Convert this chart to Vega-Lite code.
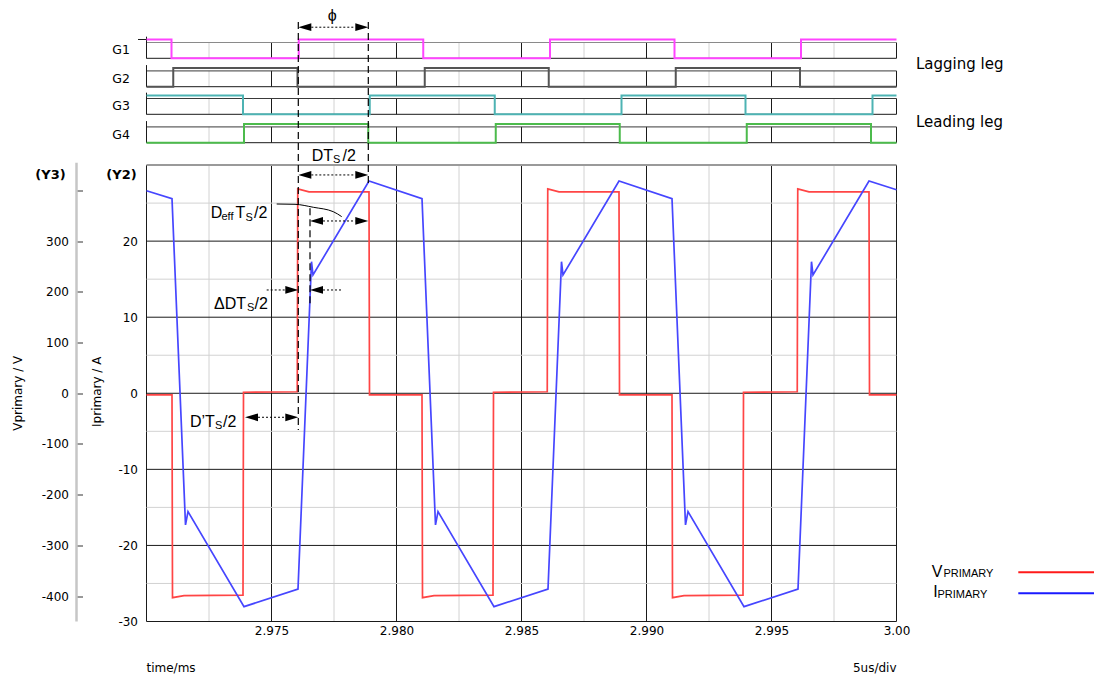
{
  "$schema": "https://vega.github.io/schema/vega-lite/v6.json",
  "width": 750,
  "height": 620,
  "autosize": {"type": "none"},
  "padding": {"left": 146.5, "top": 1.5, "right": 197.5, "bottom": 52.5},
  "background": "white",
  "config": {"view": {"stroke": null}},
  "datasets": {
    "cur": [
      {"t": 2.970, "a": 26.63}, {"t": 2.97102, "a": 25.58}, {"t": 2.97156, "a": -17.31}, {"t": 2.97166, "a": -15.56},
      {"t": 2.97390, "a": -28.05}, {"t": 2.97606, "a": -25.73}, {"t": 2.97660, "a": 17.30}, {"t": 2.97666, "a": 15.55},
      {"t": 2.97890, "a": 27.90}, {"t": 2.98102, "a": 25.58}, {"t": 2.98156, "a": -17.31}, {"t": 2.98166, "a": -15.56},
      {"t": 2.98390, "a": -28.05}, {"t": 2.98606, "a": -25.73}, {"t": 2.98660, "a": 17.30}, {"t": 2.98666, "a": 15.55},
      {"t": 2.98890, "a": 27.90}, {"t": 2.99102, "a": 25.58}, {"t": 2.99156, "a": -17.31}, {"t": 2.99166, "a": -15.56},
      {"t": 2.99390, "a": -28.05}, {"t": 2.99606, "a": -25.73}, {"t": 2.99660, "a": 17.30}, {"t": 2.99666, "a": 15.55},
      {"t": 2.99890, "a": 27.90}, {"t": 3.000, "a": 26.75}
    ],
    "volt": [
      {"t": 2.970, "v": -3}, {"t": 2.97102, "v": -3}, {"t": 2.97104, "v": -403}, {"t": 2.97150, "v": -399},
      {"t": 2.97386, "v": -398}, {"t": 2.97388, "v": 2}, {"t": 2.97603, "v": 3}, {"t": 2.97605, "v": 403},
      {"t": 2.97650, "v": 397}, {"t": 2.97890, "v": 397}, {"t": 2.97892, "v": -3}, {"t": 2.98102, "v": -3},
      {"t": 2.98104, "v": -403}, {"t": 2.98150, "v": -399}, {"t": 2.98386, "v": -398}, {"t": 2.98388, "v": 2},
      {"t": 2.98603, "v": 3}, {"t": 2.98605, "v": 403}, {"t": 2.98650, "v": 397}, {"t": 2.98890, "v": 397},
      {"t": 2.98892, "v": -3}, {"t": 2.99102, "v": -3}, {"t": 2.99104, "v": -403}, {"t": 2.99150, "v": -399},
      {"t": 2.99386, "v": -398}, {"t": 2.99388, "v": 2}, {"t": 2.99603, "v": 3}, {"t": 2.99605, "v": 403},
      {"t": 2.99650, "v": 397}, {"t": 2.99890, "v": 397}, {"t": 2.99892, "v": -3}, {"t": 3.000, "v": -3}
    ],
    "gates": [
      {"g": "G1", "t": 2.970, "s": 1}, {"g": "G1", "t": 2.97100, "s": 0}, {"g": "G1", "t": 2.97609, "s": 1}, {"g": "G1", "t": 2.98107, "s": 0},
      {"g": "G1", "t": 2.98614, "s": 1}, {"g": "G1", "t": 2.99112, "s": 0}, {"g": "G1", "t": 2.99618, "s": 1}, {"g": "G1", "t": 3.000, "s": 1},
      {"g": "G2", "t": 2.970, "s": 0}, {"g": "G2", "t": 2.97107, "s": 1}, {"g": "G2", "t": 2.97604, "s": 0}, {"g": "G2", "t": 2.98113, "s": 1},
      {"g": "G2", "t": 2.98609, "s": 0}, {"g": "G2", "t": 2.99117, "s": 1}, {"g": "G2", "t": 2.99614, "s": 0}, {"g": "G2", "t": 3.000, "s": 0},
      {"g": "G3", "t": 2.970, "s": 1}, {"g": "G3", "t": 2.97386, "s": 0}, {"g": "G3", "t": 2.97893, "s": 1}, {"g": "G3", "t": 2.98393, "s": 0},
      {"g": "G3", "t": 2.98900, "s": 1}, {"g": "G3", "t": 2.99396, "s": 0}, {"g": "G3", "t": 2.99904, "s": 1}, {"g": "G3", "t": 3.000, "s": 1},
      {"g": "G4", "t": 2.970, "s": 0}, {"g": "G4", "t": 2.97390, "s": 1}, {"g": "G4", "t": 2.97887, "s": 0}, {"g": "G4", "t": 2.98397, "s": 1},
      {"g": "G4", "t": 2.98893, "s": 0}, {"g": "G4", "t": 2.99401, "s": 1}, {"g": "G4", "t": 2.99898, "s": 0}, {"g": "G4", "t": 3.000, "s": 0}
    ],
    "glabels": [{"g": "G1"}, {"g": "G2"}, {"g": "G3"}, {"g": "G4"}],
    "lanes": [{"lv": 0, "k": "low"}, {"lv": 0.84, "k": "top"}],
    "xgrid": [
      {"t": 2.9725, "k": "minor"}, {"t": 2.9775, "k": "minor"}, {"t": 2.9825, "k": "minor"}, {"t": 2.9875, "k": "minor"},
      {"t": 2.9925, "k": "minor"}, {"t": 2.9975, "k": "minor"},
      {"t": 2.970, "k": "major"}, {"t": 2.975, "k": "major"}, {"t": 2.980, "k": "major"}, {"t": 2.985, "k": "major"},
      {"t": 2.990, "k": "major"}, {"t": 2.995, "k": "major"}, {"t": 3.000, "k": "major"}
    ],
    "ygrid": [
      {"v": -25, "k": "minor"}, {"v": -15, "k": "minor"}, {"v": -5, "k": "minor"}, {"v": 5, "k": "minor"}, {"v": 15, "k": "minor"}, {"v": 25, "k": "minor"},
      {"v": -30, "k": "major"}, {"v": -20, "k": "major"}, {"v": -10, "k": "major"}, {"v": 0, "k": "major"}, {"v": 10, "k": "major"}, {"v": 20, "k": "major"},
      {"v": 30, "k": "top"}
    ],
    "y3line": [{"x": 2.9672, "y1": -30, "y2": 30.3}],
    "dashes": [
      {"x": 2.976072, "y1": 48.8, "y2": -4.82},
      {"x": 2.978872, "y1": 48.8, "y2": 27.5},
      {"x": 2.97654, "y1": 24.32, "y2": 11.38}
    ],
    "dots": [
      {"x1": 2.976592, "x2": 2.978352, "y": 48.12},
      {"x1": 2.976592, "x2": 2.978352, "y": 28.70},
      {"x1": 2.97706, "x2": 2.978352, "y": 22.65},
      {"x1": 2.974808, "x2": 2.975552, "y": 13.58},
      {"x1": 2.97706, "x2": 2.977808, "y": 13.58},
      {"x1": 2.97446, "x2": 2.975552, "y": -3.155}
    ],
    "heads": [
      {"x": 2.976332, "y": 48.12, "dir": "left"}, {"x": 2.978612, "y": 48.12, "dir": "right"},
      {"x": 2.976332, "y": 28.70, "dir": "left"}, {"x": 2.978612, "y": 28.70, "dir": "right"},
      {"x": 2.9768, "y": 22.65, "dir": "left"}, {"x": 2.978612, "y": 22.65, "dir": "right"},
      {"x": 2.975812, "y": 13.58, "dir": "right"}, {"x": 2.9768, "y": 13.58, "dir": "left"},
      {"x": 2.9742, "y": -3.155, "dir": "left"}, {"x": 2.975812, "y": -3.155, "dir": "right"}
    ],
    "leader": [
      {"x": 2.975208, "y": 24.88}, {"x": 2.97594, "y": 24.84}, {"x": 2.976672, "y": 24.45}, {"x": 2.977472, "y": 23.87}, {"x": 2.977808, "y": 23.22}
    ],
    "annoText": [
      {"x": 2.976608, "y": 30.58, "s": "DT"}, {"x": 2.97784, "y": 30.58, "s": "/2"},
      {"x": 2.972568, "y": 23.0, "s": "D"}, {"x": 2.97356, "y": 23.0, "s": "T"}, {"x": 2.9743, "y": 23.0, "s": "/2"},
      {"x": 2.9727, "y": 11.04, "s": "ΔDT"}, {"x": 2.97432, "y": 11.04, "s": "/2"},
      {"x": 2.97174, "y": -4.39, "s": "D’T"}, {"x": 2.97306, "y": -4.39, "s": "/2"},
      {"x": 3.001408, "y": -24.11, "s": "V"}, {"x": 3.001472, "y": -26.82, "s": "I"}
    ],
    "annoSub": [
      {"x": 2.97746, "y": 30.21, "s": "S"},
      {"x": 2.973, "y": 22.8, "s": "eff"}, {"x": 2.97396, "y": 22.65, "s": "S"},
      {"x": 2.97402, "y": 10.82, "s": "S"},
      {"x": 2.97274, "y": -4.63, "s": "S"},
      {"x": 3.00188, "y": -24.19, "s": "PRIMARY"}, {"x": 3.00164, "y": -26.9, "s": "PRIMARY"}
    ],
    "phi": [{"x": 2.977432, "y": 49.6, "s": "ϕ"}],
    "ytitles": [{"x": 2.964872, "y": 0, "s": "Vprimary / V"}, {"x": 2.968008, "y": 0.2, "s": "Iprimary / A"}],
    "ytags": [{"x": 2.966768, "y": 28.7, "s": "(Y3)"}, {"x": 2.969608, "y": 28.7, "s": "(Y2)"}],
    "xnotes": [{"x": 2.970, "y": -36.07, "s": "time/ms", "side": "l"}, {"x": 3.000, "y": -36.07, "s": "5us/div", "side": "r"}],
    "legs": [{"x": 3.00078, "y": 42.63, "s": "Lagging leg"}, {"x": 3.00078, "y": 35.05, "s": "Leading leg"}],
    "legendLines": [{"x1": 3.004872, "x2": 3.0079, "y": -23.53, "s": "V"}, {"x1": 3.004872, "x2": 3.0079, "y": -26.29, "s": "I"}]
  },
  "resolve": {"scale": {"y": "independent"}, "axis": {"x": "independent", "y": "independent"}},
  "layer": [
    {
      "layer": [
        {
          "data": {"name": "xgrid"},
          "mark": {"type": "rule", "strokeWidth": 1},
          "encoding": {
            "x": {"field": "t", "type": "quantitative", "scale": {"domain": [2.97, 3.0], "nice": false, "zero": false}, "axis": null},
            "y": {"datum": -30, "type": "quantitative", "scale": {"domain": [-30, 51.5], "nice": false, "zero": false}, "axis": null},
            "y2": {"datum": 30},
            "color": {"condition": {"test": "datum.k === 'major'", "value": "#1a1a1a"}, "value": "#d2d2d2"}
          }
        },
        {
          "data": {"name": "ygrid"},
          "mark": {"type": "rule"},
          "encoding": {
            "y": {"field": "v", "type": "quantitative", "scale": {"domain": [-30, 51.5], "nice": false, "zero": false}, "axis": null},
            "x": {"datum": 2.97, "type": "quantitative", "scale": {"domain": [2.97, 3.0], "nice": false, "zero": false}, "axis": null},
            "x2": {"datum": 3.0},
            "color": {"condition": [{"test": "datum.k === 'major'", "value": "#1a1a1a"}, {"test": "datum.k === 'top'", "value": "#9a9a9a"}], "value": "#d2d2d2"},
            "strokeWidth": {"condition": {"test": "datum.k === 'top'", "value": 2}, "value": 1}
          }
        }
      ]
    },
    {
      "layer": [
        {"data": {"name": "xgrid"}, "mark": {"type": "rule"},
          "encoding": {"x": {"field": "t", "type": "quantitative", "scale": {"domain": [2.97, 3.0], "nice": false, "zero": false}, "axis": null},
            "y": {"datum": 0, "type": "quantitative", "scale": {"domain": [-29.958, 3.0213], "nice": false, "zero": false}, "axis": null}, "y2": {"datum": 0.84},
            "color": {"condition": {"test": "datum.k === 'major'", "value": "#1a1a1a"}, "value": "#d2d2d2"}}},
        {"data": {"name": "lanes"}, "mark": {"type": "rule"},
          "encoding": {"y": {"field": "lv", "type": "quantitative", "scale": {"domain": [-29.958, 3.0213], "nice": false, "zero": false}, "axis": null},
            "x": {"datum": 2.97, "type": "quantitative", "scale": {"domain": [2.97, 3.0], "nice": false, "zero": false}, "axis": null}, "x2": {"datum": 3.0},
            "color": {"condition": {"test": "datum.k === 'low'", "value": "#1a1a1a"}, "value": "#8a8a8a"}}},
        {"data": {"name": "glabels"}, "transform": [{"filter": "datum.g === 'G1'"}], "mark": {"type": "rule", "color": "#1a1a1a"},
          "encoding": {"x": {"datum": 2.97, "type": "quantitative", "scale": {"domain": [2.97, 3.0], "nice": false, "zero": false}, "axis": null},
            "y": {"datum": 0, "type": "quantitative", "scale": {"domain": [-29.958, 3.0213], "nice": false, "zero": false}, "axis": null}, "y2": {"datum": 1.15}}},
        {"data": {"name": "glabels"}, "transform": [{"filter": "datum.g === 'G1'"}], "mark": {"type": "rule", "color": "#1a1a1a"},
          "encoding": {"x": {"datum": 2.96966, "type": "quantitative", "scale": {"domain": [2.97, 3.0], "nice": false, "zero": false}, "axis": null}, "x2": {"datum": 2.97},
            "y": {"datum": 1, "type": "quantitative", "scale": {"domain": [-29.958, 3.0213], "nice": false, "zero": false}, "axis": null}}},
        {"data": {"name": "gates"}, "transform": [{"filter": "datum.g === 'G1'"}], "mark": {"type": "line", "interpolate": "step-after", "color": "#ff44ff", "strokeWidth": 2},
          "encoding": {"x": {"field": "t", "type": "quantitative", "scale": {"domain": [2.97, 3.0], "nice": false, "zero": false}, "axis": null},
            "y": {"field": "s", "type": "quantitative", "scale": {"domain": [-29.958, 3.0213], "nice": false, "zero": false}, "axis": null}}},
        {"data": {"name": "glabels"}, "transform": [{"filter": "datum.g === 'G1'"}], "mark": {"type": "text", "align": "right", "baseline": "middle", "font": "DejaVu Sans", "fontSize": 12.5, "color": "#000000"},
          "encoding": {"x": {"datum": 2.96934, "type": "quantitative", "scale": {"domain": [2.97, 3.0], "nice": false, "zero": false}, "axis": null},
            "y": {"datum": 0.42, "type": "quantitative", "scale": {"domain": [-29.958, 3.0213], "nice": false, "zero": false}, "axis": null},
            "text": {"field": "g"}}}
      ]
    },
    {
      "layer": [
        {"data": {"name": "xgrid"}, "mark": {"type": "rule"},
          "encoding": {"x": {"field": "t", "type": "quantitative", "scale": {"domain": [2.97, 3.0], "nice": false, "zero": false}, "axis": null},
            "y": {"datum": 0, "type": "quantitative", "scale": {"domain": [-28.447, 4.5319], "nice": false, "zero": false}, "axis": null}, "y2": {"datum": 0.84},
            "color": {"condition": {"test": "datum.k === 'major'", "value": "#1a1a1a"}, "value": "#d2d2d2"}}},
        {"data": {"name": "lanes"}, "mark": {"type": "rule"},
          "encoding": {"y": {"field": "lv", "type": "quantitative", "scale": {"domain": [-28.447, 4.5319], "nice": false, "zero": false}, "axis": null},
            "x": {"datum": 2.97, "type": "quantitative", "scale": {"domain": [2.97, 3.0], "nice": false, "zero": false}, "axis": null}, "x2": {"datum": 3.0},
            "color": {"condition": {"test": "datum.k === 'low'", "value": "#1a1a1a"}, "value": "#3a3a3a"}}},
        {"data": {"name": "glabels"}, "transform": [{"filter": "datum.g === 'G2'"}], "mark": {"type": "rule", "color": "#1a1a1a"},
          "encoding": {"x": {"datum": 2.97, "type": "quantitative", "scale": {"domain": [2.97, 3.0], "nice": false, "zero": false}, "axis": null},
            "y": {"datum": 0, "type": "quantitative", "scale": {"domain": [-28.447, 4.5319], "nice": false, "zero": false}, "axis": null}, "y2": {"datum": 1.15}}},
        {"data": {"name": "gates"}, "transform": [{"filter": "datum.g === 'G2'"}], "mark": {"type": "line", "interpolate": "step-after", "color": "#555555", "strokeWidth": 2},
          "encoding": {"x": {"field": "t", "type": "quantitative", "scale": {"domain": [2.97, 3.0], "nice": false, "zero": false}, "axis": null},
            "y": {"field": "s", "type": "quantitative", "scale": {"domain": [-28.447, 4.5319], "nice": false, "zero": false}, "axis": null}}},
        {"data": {"name": "glabels"}, "transform": [{"filter": "datum.g === 'G2'"}], "mark": {"type": "text", "align": "right", "baseline": "middle", "font": "DejaVu Sans", "fontSize": 12.5, "color": "#000000"},
          "encoding": {"x": {"datum": 2.96934, "type": "quantitative", "scale": {"domain": [2.97, 3.0], "nice": false, "zero": false}, "axis": null},
            "y": {"datum": 0.42, "type": "quantitative", "scale": {"domain": [-28.447, 4.5319], "nice": false, "zero": false}, "axis": null},
            "text": {"field": "g"}}}
      ]
    },
    {
      "layer": [
        {"data": {"name": "xgrid"}, "mark": {"type": "rule"},
          "encoding": {"x": {"field": "t", "type": "quantitative", "scale": {"domain": [2.97, 3.0], "nice": false, "zero": false}, "axis": null},
            "y": {"datum": 0, "type": "quantitative", "scale": {"domain": [-26.979, 6.0], "nice": false, "zero": false}, "axis": null}, "y2": {"datum": 0.84},
            "color": {"condition": {"test": "datum.k === 'major'", "value": "#1a1a1a"}, "value": "#d2d2d2"}}},
        {"data": {"name": "lanes"}, "mark": {"type": "rule"},
          "encoding": {"y": {"field": "lv", "type": "quantitative", "scale": {"domain": [-26.979, 6.0], "nice": false, "zero": false}, "axis": null},
            "x": {"datum": 2.97, "type": "quantitative", "scale": {"domain": [2.97, 3.0], "nice": false, "zero": false}, "axis": null}, "x2": {"datum": 3.0},
            "color": {"condition": {"test": "datum.k === 'low'", "value": "#1a1a1a"}, "value": "#3a3a3a"}}},
        {"data": {"name": "glabels"}, "transform": [{"filter": "datum.g === 'G3'"}], "mark": {"type": "rule", "color": "#1a1a1a"},
          "encoding": {"x": {"datum": 2.97, "type": "quantitative", "scale": {"domain": [2.97, 3.0], "nice": false, "zero": false}, "axis": null},
            "y": {"datum": 0, "type": "quantitative", "scale": {"domain": [-26.979, 6.0], "nice": false, "zero": false}, "axis": null}, "y2": {"datum": 1.15}}},
        {"data": {"name": "gates"}, "transform": [{"filter": "datum.g === 'G3'"}], "mark": {"type": "line", "interpolate": "step-after", "color": "#4db3b3", "strokeWidth": 2},
          "encoding": {"x": {"field": "t", "type": "quantitative", "scale": {"domain": [2.97, 3.0], "nice": false, "zero": false}, "axis": null},
            "y": {"field": "s", "type": "quantitative", "scale": {"domain": [-26.979, 6.0], "nice": false, "zero": false}, "axis": null}}},
        {"data": {"name": "glabels"}, "transform": [{"filter": "datum.g === 'G3'"}], "mark": {"type": "text", "align": "right", "baseline": "middle", "font": "DejaVu Sans", "fontSize": 12.5, "color": "#000000"},
          "encoding": {"x": {"datum": 2.96934, "type": "quantitative", "scale": {"domain": [2.97, 3.0], "nice": false, "zero": false}, "axis": null},
            "y": {"datum": 0.42, "type": "quantitative", "scale": {"domain": [-26.979, 6.0], "nice": false, "zero": false}, "axis": null},
            "text": {"field": "g"}}}
      ]
    },
    {
      "layer": [
        {"data": {"name": "xgrid"}, "mark": {"type": "rule"},
          "encoding": {"x": {"field": "t", "type": "quantitative", "scale": {"domain": [2.97, 3.0], "nice": false, "zero": false}, "axis": null},
            "y": {"datum": 0, "type": "quantitative", "scale": {"domain": [-25.468, 7.5106], "nice": false, "zero": false}, "axis": null}, "y2": {"datum": 0.84},
            "color": {"condition": {"test": "datum.k === 'major'", "value": "#1a1a1a"}, "value": "#d2d2d2"}}},
        {"data": {"name": "lanes"}, "mark": {"type": "rule"},
          "encoding": {"y": {"field": "lv", "type": "quantitative", "scale": {"domain": [-25.468, 7.5106], "nice": false, "zero": false}, "axis": null},
            "x": {"datum": 2.97, "type": "quantitative", "scale": {"domain": [2.97, 3.0], "nice": false, "zero": false}, "axis": null}, "x2": {"datum": 3.0},
            "color": {"condition": {"test": "datum.k === 'low'", "value": "#1a1a1a"}, "value": "#3a3a3a"}}},
        {"data": {"name": "glabels"}, "transform": [{"filter": "datum.g === 'G4'"}], "mark": {"type": "rule", "color": "#1a1a1a"},
          "encoding": {"x": {"datum": 2.97, "type": "quantitative", "scale": {"domain": [2.97, 3.0], "nice": false, "zero": false}, "axis": null},
            "y": {"datum": 0, "type": "quantitative", "scale": {"domain": [-25.468, 7.5106], "nice": false, "zero": false}, "axis": null}, "y2": {"datum": 1.15}}},
        {"data": {"name": "gates"}, "transform": [{"filter": "datum.g === 'G4'"}], "mark": {"type": "line", "interpolate": "step-after", "color": "#4cbb4c", "strokeWidth": 2},
          "encoding": {"x": {"field": "t", "type": "quantitative", "scale": {"domain": [2.97, 3.0], "nice": false, "zero": false}, "axis": null},
            "y": {"field": "s", "type": "quantitative", "scale": {"domain": [-25.468, 7.5106], "nice": false, "zero": false}, "axis": null}}},
        {"data": {"name": "glabels"}, "transform": [{"filter": "datum.g === 'G4'"}], "mark": {"type": "text", "align": "right", "baseline": "middle", "font": "DejaVu Sans", "fontSize": 12.5, "color": "#000000"},
          "encoding": {"x": {"datum": 2.96934, "type": "quantitative", "scale": {"domain": [2.97, 3.0], "nice": false, "zero": false}, "axis": null},
            "y": {"datum": 0.42, "type": "quantitative", "scale": {"domain": [-25.468, 7.5106], "nice": false, "zero": false}, "axis": null},
            "text": {"field": "g"}}}
      ]
    },
    {
      "data": {"name": "volt"},
      "mark": {"type": "line", "color": "#ff4545", "strokeWidth": 1.7},
      "encoding": {
        "x": {"field": "t", "type": "quantitative", "scale": {"domain": [2.97, 3.0], "nice": false, "zero": false}, "axis": null},
        "y": {"field": "v", "type": "quantitative", "scale": {"domain": [-450, 772.5], "nice": false, "zero": false},
          "axis": {"orient": "left", "offset": 70, "values": [-400, -300, -200, -100, 0, 100, 200, 300, 400], "labelExpr": "datum.value === 400 ? '' : '' + datum.value", "domain": false, "grid": false, "ticks": true, "tickSize": -6, "tickColor": "#333333", "labelPadding": 14, "labelFont": "DejaVu Sans", "labelFontSize": 12, "labelColor": "#000000", "title": null}}
      }
    },
    {
      "data": {"name": "cur"},
      "mark": {"type": "line", "color": "#4646ff", "strokeWidth": 1.7},
      "encoding": {
        "x": {"field": "t", "type": "quantitative", "scale": {"domain": [2.97, 3.0], "nice": false, "zero": false},
          "axis": {"orient": "bottom", "values": [2.975, 2.98, 2.985, 2.99, 2.995, 3.0], "labelExpr": "datum.value > 2.9999 ? '3.00' : format(datum.value, '.3f')", "ticks": false, "domain": false, "grid": false, "labelPadding": 4, "labelFont": "DejaVu Sans", "labelFontSize": 12, "labelColor": "#000000", "labelFlush": false, "labelOverlap": false, "title": null}},
        "y": {"field": "a", "type": "quantitative", "scale": {"domain": [-30, 51.5], "nice": false, "zero": false},
          "axis": {"orient": "left", "offset": 0, "values": [-30, -20, -10, 0, 10, 20], "labelExpr": "'' + datum.value", "ticks": false, "domain": false, "grid": false, "labelPadding": 9, "labelFont": "DejaVu Sans", "labelFontSize": 12, "labelColor": "#000000", "title": null}}
      }
    },
    {
      "layer": [
        {"data": {"name": "y3line"}, "mark": {"type": "rule", "color": "#c6c6c6", "strokeWidth": 2.5},
          "encoding": {"x": {"field": "x", "type": "quantitative", "scale": {"domain": [2.97, 3.0], "nice": false, "zero": false}, "axis": null},
            "y": {"field": "y1", "type": "quantitative", "scale": {"domain": [-30, 51.5], "nice": false, "zero": false}, "axis": null}, "y2": {"field": "y2"}}},
        {"data": {"name": "dashes"}, "mark": {"type": "rule", "color": "#000000", "strokeWidth": 1.2, "strokeDash": [7, 4]},
          "encoding": {"x": {"field": "x", "type": "quantitative", "scale": {"domain": [2.97, 3.0], "nice": false, "zero": false}, "axis": null},
            "y": {"field": "y1", "type": "quantitative", "scale": {"domain": [-30, 51.5], "nice": false, "zero": false}, "axis": null}, "y2": {"field": "y2"}}},
        {"data": {"name": "dots"}, "mark": {"type": "rule", "color": "#000000", "strokeWidth": 1, "strokeDash": [2, 2]},
          "encoding": {"x": {"field": "x1", "type": "quantitative", "scale": {"domain": [2.97, 3.0], "nice": false, "zero": false}, "axis": null}, "x2": {"field": "x2"},
            "y": {"field": "y", "type": "quantitative", "scale": {"domain": [-30, 51.5], "nice": false, "zero": false}, "axis": null}}},
        {"data": {"name": "heads"}, "mark": {"type": "point", "filled": true, "color": "#000000", "opacity": 1, "size": 169, "strokeWidth": 0},
          "encoding": {"x": {"field": "x", "type": "quantitative", "scale": {"domain": [2.97, 3.0], "nice": false, "zero": false}, "axis": null},
            "y": {"field": "y", "type": "quantitative", "scale": {"domain": [-30, 51.5], "nice": false, "zero": false}, "axis": null},
            "shape": {"field": "dir", "type": "nominal", "scale": {"domain": ["left", "right"], "range": ["M -1 0 L 1 -0.6 L 1 0.6 Z", "M 1 0 L -1 -0.6 L -1 0.6 Z"]}, "legend": null}}},
        {"data": {"name": "leader"}, "mark": {"type": "line", "color": "#000000", "strokeWidth": 1, "interpolate": "monotone"},
          "encoding": {"x": {"field": "x", "type": "quantitative", "scale": {"domain": [2.97, 3.0], "nice": false, "zero": false}, "axis": null},
            "y": {"field": "y", "type": "quantitative", "scale": {"domain": [-30, 51.5], "nice": false, "zero": false}, "axis": null}}},
        {"data": {"name": "annoText"}, "mark": {"type": "text", "align": "left", "baseline": "alphabetic", "font": "Liberation Sans", "fontSize": 16, "color": "#000000"},
          "encoding": {"x": {"field": "x", "type": "quantitative", "scale": {"domain": [2.97, 3.0], "nice": false, "zero": false}, "axis": null},
            "y": {"field": "y", "type": "quantitative", "scale": {"domain": [-30, 51.5], "nice": false, "zero": false}, "axis": null},
            "text": {"field": "s"}}},
        {"data": {"name": "annoSub"}, "mark": {"type": "text", "align": "left", "baseline": "alphabetic", "font": "Liberation Sans", "fontSize": 11, "color": "#000000"},
          "encoding": {"x": {"field": "x", "type": "quantitative", "scale": {"domain": [2.97, 3.0], "nice": false, "zero": false}, "axis": null},
            "y": {"field": "y", "type": "quantitative", "scale": {"domain": [-30, 51.5], "nice": false, "zero": false}, "axis": null},
            "text": {"field": "s"}}},
        {"data": {"name": "phi"}, "mark": {"type": "text", "align": "center", "baseline": "middle", "font": "Liberation Sans", "fontSize": 16, "color": "#000000"},
          "encoding": {"x": {"field": "x", "type": "quantitative", "scale": {"domain": [2.97, 3.0], "nice": false, "zero": false}, "axis": null},
            "y": {"field": "y", "type": "quantitative", "scale": {"domain": [-30, 51.5], "nice": false, "zero": false}, "axis": null},
            "text": {"field": "s"}}},
        {"data": {"name": "ytitles"}, "mark": {"type": "text", "align": "center", "baseline": "middle", "angle": 270, "font": "DejaVu Sans", "fontSize": 12, "color": "#000000"},
          "encoding": {"x": {"field": "x", "type": "quantitative", "scale": {"domain": [2.97, 3.0], "nice": false, "zero": false}, "axis": null},
            "y": {"field": "y", "type": "quantitative", "scale": {"domain": [-30, 51.5], "nice": false, "zero": false}, "axis": null},
            "text": {"field": "s"}}},
        {"data": {"name": "ytags"}, "mark": {"type": "text", "align": "right", "baseline": "middle", "font": "DejaVu Sans", "fontSize": 13, "fontWeight": "bold", "color": "#000000"},
          "encoding": {"x": {"field": "x", "type": "quantitative", "scale": {"domain": [2.97, 3.0], "nice": false, "zero": false}, "axis": null},
            "y": {"field": "y", "type": "quantitative", "scale": {"domain": [-30, 51.5], "nice": false, "zero": false}, "axis": null},
            "text": {"field": "s"}}},
        {"data": {"name": "xnotes"}, "transform": [{"filter": "datum.side === 'l'"}], "mark": {"type": "text", "align": "left", "baseline": "middle", "font": "DejaVu Sans", "fontSize": 12, "color": "#000000"},
          "encoding": {"x": {"field": "x", "type": "quantitative", "scale": {"domain": [2.97, 3.0], "nice": false, "zero": false}, "axis": null},
            "y": {"field": "y", "type": "quantitative", "scale": {"domain": [-30, 51.5], "nice": false, "zero": false}, "axis": null},
            "text": {"field": "s"}}},
        {"data": {"name": "xnotes"}, "transform": [{"filter": "datum.side === 'r'"}], "mark": {"type": "text", "align": "right", "baseline": "middle", "font": "DejaVu Sans", "fontSize": 12, "color": "#000000"},
          "encoding": {"x": {"field": "x", "type": "quantitative", "scale": {"domain": [2.97, 3.0], "nice": false, "zero": false}, "axis": null},
            "y": {"field": "y", "type": "quantitative", "scale": {"domain": [-30, 51.5], "nice": false, "zero": false}, "axis": null},
            "text": {"field": "s"}}},
        {"data": {"name": "legs"}, "mark": {"type": "text", "align": "left", "baseline": "alphabetic", "font": "DejaVu Sans", "fontSize": 15, "color": "#000000"},
          "encoding": {"x": {"field": "x", "type": "quantitative", "scale": {"domain": [2.97, 3.0], "nice": false, "zero": false}, "axis": null},
            "y": {"field": "y", "type": "quantitative", "scale": {"domain": [-30, 51.5], "nice": false, "zero": false}, "axis": null},
            "text": {"field": "s"}}},
        {"data": {"name": "legendLines"}, "mark": {"type": "rule", "strokeWidth": 2},
          "encoding": {"x": {"field": "x1", "type": "quantitative", "scale": {"domain": [2.97, 3.0], "nice": false, "zero": false}, "axis": null}, "x2": {"field": "x2"},
            "y": {"field": "y", "type": "quantitative", "scale": {"domain": [-30, 51.5], "nice": false, "zero": false}, "axis": null},
            "color": {"condition": {"test": "datum.s === 'V'", "value": "#ff1a1a"}, "value": "#1a1aff"}}}
      ]
    }
  ]
}
